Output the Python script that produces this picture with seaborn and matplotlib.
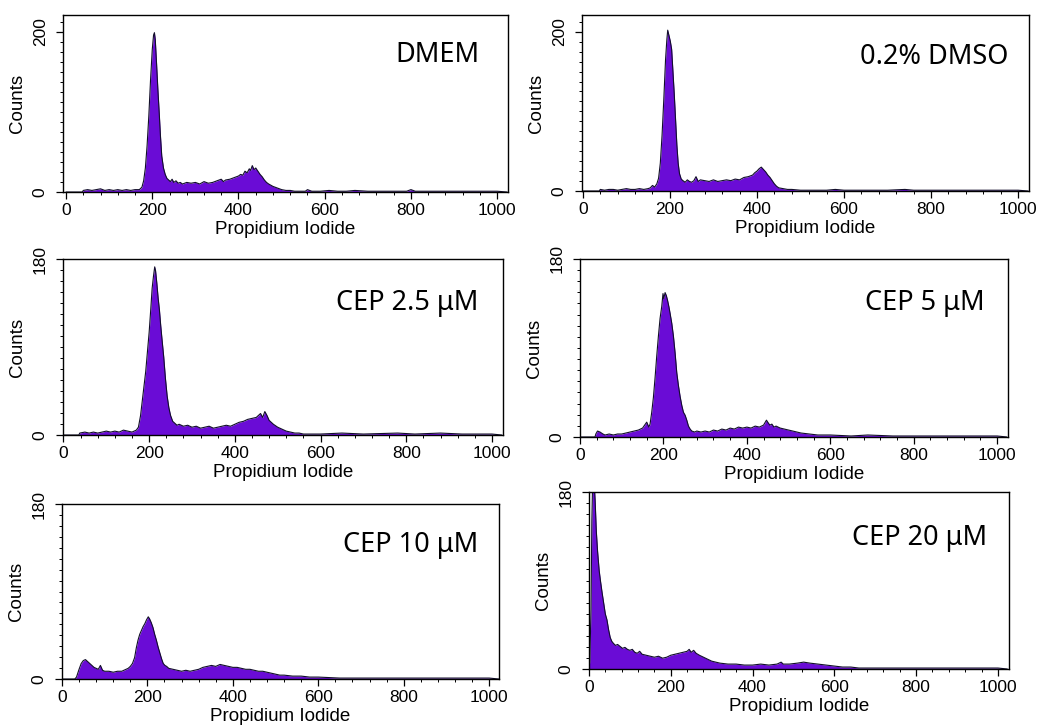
import matplotlib
matplotlib.use("Agg")
import matplotlib.pyplot as plt
from matplotlib.ticker import MultipleLocator, FixedLocator
import seaborn as sns

sns.set_theme(style="ticks")
plt.rcParams['font.family'] = ['Liberation Sans', 'DejaVu Sans']

# ------------------------------
# data (channel, counts)
# ------------------------------
dmem_x = [0, 38, 40, 50, 60, 70, 80, 90, 100, 110, 120, 130, 140, 150, 160, 170, 176, 180, 184, 188,
          192, 196, 200, 203, 205, 207, 210, 213, 216, 219, 222, 226, 230, 234, 238, 242, 246, 250, 255, 260,
          265, 270, 280, 290, 300, 310, 320, 330, 340, 350, 360, 365, 370, 380, 390, 400, 405, 410, 415, 420,
          425, 428, 432, 436, 440, 445, 450, 455, 460, 465, 470, 480, 490, 500, 510, 520, 530, 540, 555, 560,
          570, 590, 610, 630, 650, 670, 700, 730, 760, 790, 800, 810, 840, 870, 900, 930, 960, 990, 1000, 1023]
dmem_y = [0, 0, 2, 3, 2, 3, 4, 2, 3, 2, 3, 2, 3, 2, 3, 3, 6, 14, 30, 58,
          95, 140, 178, 196, 199, 190, 160, 128, 100, 70, 45, 30, 22, 17, 15, 13, 16, 12, 14, 11,
          12, 10, 12, 11, 12, 10, 13, 11, 12, 14, 16, 13, 15, 16, 18, 20, 22, 21, 26, 24,
          29, 27, 33, 28, 30, 26, 22, 19, 15, 12, 10, 7, 5, 3, 2, 2, 1, 1, 1, 3,
          1, 1, 2, 1, 1, 2, 1, 1, 1, 1, 3, 1, 1, 1, 1, 1, 1, 1, 1, 0]

dmso_x = [0, 38, 40, 50, 60, 70, 80, 90, 100, 110, 120, 130, 140, 150, 155, 160, 165, 170, 174, 178,
          182, 186, 190, 193, 195, 198, 201, 204, 207, 210, 213, 216, 219, 222, 226, 230, 235, 240, 245, 250,
          255, 260, 265, 270, 280, 290, 300, 310, 320, 330, 340, 350, 360, 370, 380, 390, 395, 400, 405, 410,
          415, 420, 425, 430, 435, 440, 445, 450, 460, 470, 480, 500, 520, 560, 580, 600, 650, 700, 740, 760,
          800, 850, 900, 950, 1000, 1023]
dmso_y = [0, 0, 2, 1, 2, 2, 1, 2, 3, 2, 2, 3, 2, 3, 4, 7, 5, 9, 16, 35,
          70, 115, 165, 190, 202, 195, 188, 178, 150, 122, 90, 58, 35, 22, 15, 13, 11, 14, 12, 11,
          13, 18, 12, 14, 13, 12, 14, 12, 13, 14, 13, 15, 14, 17, 18, 20, 23, 25, 28, 30,
          27, 24, 20, 17, 13, 9, 6, 4, 3, 2, 2, 1, 1, 1, 2, 1, 1, 1, 2, 1,
          1, 1, 1, 1, 1, 0]

cep25_x = [0, 36, 38, 50, 60, 70, 80, 90, 100, 110, 120, 130, 140, 150, 160, 170, 175, 180, 184, 188,
           192, 196, 200, 204, 207, 210, 213, 215, 218, 221, 224, 227, 230, 234, 238, 242, 246, 250, 255, 260,
           265, 270, 280, 290, 300, 310, 320, 330, 340, 350, 360, 370, 380, 390, 400, 410, 420, 430, 440, 450,
           455, 460, 465, 470, 475, 480, 490, 500, 510, 520, 530, 540, 550, 560, 600, 650, 700, 780, 820, 880,
           930, 1000, 1023]
cep25_y = [0, 0, 2, 3, 2, 3, 2, 3, 4, 3, 4, 3, 5, 4, 3, 5, 8, 20, 35, 50,
           65, 85, 105, 130, 150, 162, 172, 168, 155, 140, 128, 112, 98, 80, 58, 40, 28, 20, 14, 12,
           10, 11, 9, 10, 8, 9, 7, 8, 9, 7, 8, 9, 10, 9, 11, 13, 14, 16, 17, 18,
           20, 22, 18, 24, 20, 15, 11, 8, 6, 4, 3, 2, 2, 1, 1, 2, 1, 2, 1, 2,
           1, 1, 0]

cep5_x = [0, 36, 38, 42, 48, 55, 60, 70, 80, 90, 100, 110, 120, 130, 140, 150, 155, 160, 165, 168,
          172, 176, 180, 184, 188, 192, 196, 199, 201, 204, 207, 210, 213, 216, 220, 224, 228, 232, 236, 240,
          244, 248, 252, 256, 260, 264, 268, 275, 280, 290, 300, 310, 320, 330, 340, 350, 360, 370, 380, 390,
          400, 410, 420, 430, 440, 447, 450, 455, 460, 465, 470, 480, 490, 500, 510, 520, 530, 550, 570, 600,
          650, 690, 750, 800, 900, 920, 1000, 1023]
cep5_y = [0, 0, 3, 6, 5, 3, 2, 3, 2, 3, 3, 4, 5, 6, 7, 9, 12, 15, 10, 13,
          25, 40, 60, 82, 102, 120, 132, 145, 140, 146, 143, 138, 132, 125, 115, 102, 85, 65, 52, 41,
          32, 25, 22, 17, 11, 8, 6, 5, 6, 5, 6, 5, 7, 6, 8, 7, 9, 8, 10, 9,
          10, 9, 11, 10, 12, 17, 15, 12, 13, 10, 11, 9, 8, 7, 6, 5, 4, 3, 2, 2,
          1, 2, 1, 1, 1, 1, 1, 0]

cep10_x = [0, 30, 34, 40, 45, 50, 55, 60, 65, 70, 75, 80, 85, 90, 95, 100, 110, 120, 130, 140,
           150, 155, 160, 165, 170, 174, 178, 182, 186, 190, 194, 198, 202, 205, 209, 213, 217, 221, 225, 229,
           233, 237, 241, 245, 250, 260, 270, 280, 290, 300, 310, 320, 330, 340, 350, 360, 370, 380, 390, 400,
           410, 420, 430, 440, 450, 460, 470, 480, 490, 500, 510, 520, 540, 560, 580, 600, 650, 700, 800, 1000,
           1023]
cep10_y = [0, 0, 2, 10, 16, 19, 20, 18, 16, 14, 12, 11, 10, 14, 9, 8, 8, 7, 8, 8,
           10, 11, 13, 16, 22, 32, 40, 46, 50, 54, 57, 61, 64, 62, 58, 53, 46, 40, 33, 27,
           21, 16, 14, 13, 11, 10, 9, 8, 9, 8, 9, 10, 12, 13, 14, 13, 15, 14, 13, 12,
           12, 11, 10, 10, 9, 8, 8, 7, 6, 5, 4, 4, 3, 3, 2, 2, 1, 1, 1, 1,
           0]

cep20_x = [0, 2, 5, 7, 9, 12, 15, 18, 21, 25, 28, 32, 36, 40, 44, 48, 52, 56, 60, 65,
           70, 76, 82, 88, 94, 100, 106, 112, 118, 124, 130, 140, 150, 160, 170, 180, 190, 200, 210, 220,
           230, 240, 245, 250, 256, 262, 270, 280, 290, 300, 310, 320, 340, 360, 380, 400, 420, 440, 460, 470,
           475, 490, 510, 525, 540, 560, 580, 600, 620, 640, 660, 700, 800, 1000, 1023]
cep20_y = [0, 8, 60, 150, 190, 195, 172, 140, 120, 100, 90, 78, 67, 56, 50, 40, 32, 28, 26, 24,
           25, 23, 21, 22, 20, 19, 20, 17, 16, 18, 15, 14, 13, 12, 13, 11, 12, 14, 15, 16,
           17, 18, 20, 17, 19, 16, 14, 12, 10, 8, 7, 6, 5, 5, 4, 4, 5, 4, 5, 7,
           5, 5, 6, 7, 6, 5, 4, 3, 2, 2, 1, 1, 1, 1, 0]

labels = ["DMEM", "0.2% DMSO", "CEP 2.5 μM", "CEP 5 μM", "CEP 10 μM", "CEP 20 μM"]
y_top_tick = [200, 200, 180, 180, 180, 180]
series = [(dmem_x, dmem_y), (dmso_x, dmso_y), (cep25_x, cep25_y),
          (cep5_x, cep5_y), (cep10_x, cep10_y), (cep20_x, cep20_y)]

# ------------------------------
# layout of the six panels (figure fractions) and axis limits
# ------------------------------
rects = [[0.0603, 0.7355, 0.4258, 0.2438],
         [0.5569, 0.7369, 0.4278, 0.2424],
         [0.0603, 0.4008, 0.4211, 0.2424],
         [0.5550, 0.3981, 0.4096, 0.2452],
         [0.0593, 0.0647, 0.4182, 0.2410],
         [0.5636, 0.0785, 0.4019, 0.2438]]
xlims = [(-7, 1025), (-2, 1025), (-1, 1026), (0, 1026), (0, 1023), (0, 1027)]
ylims = [221, 221, 180, 180, 180, 180]
text_pos = [(0.937, 0.774), (0.953, 0.761), (0.943, 0.75),
            (0.946, 0.753), (0.952, 0.766), (0.948, 0.74)]

fill_color = "#6a0cd6"
edge_color = "#120e2a"

fig = plt.figure(figsize=(10.45, 7.26), dpi=100)
fig.patch.set_facecolor("white")

for i, (xs, ys) in enumerate(series):
    ax = fig.add_axes(rects[i])
    ax.set_facecolor("white")
    ax.fill_between(xs, ys, 0, color=fill_color, linewidth=0)
    sns.lineplot(x=xs, y=ys, ax=ax, color=edge_color, linewidth=0.8, sort=False,
                 estimator=None)
    ax.set_xlim(*xlims[i])
    ax.set_ylim(0, ylims[i])

    ax.xaxis.set_major_locator(FixedLocator([0, 200, 400, 600, 800, 1000]))
    ax.xaxis.set_minor_locator(MultipleLocator(40))
    ax.yaxis.set_major_locator(FixedLocator([0, y_top_tick[i]]))
    ax.yaxis.set_minor_locator(MultipleLocator(y_top_tick[i] / 16))
    ax.tick_params(axis='both', which='major', direction='out', length=5, width=0.9,
                   color='black', labelsize=12.5, labelcolor='black')
    ax.tick_params(axis='both', which='minor', direction='out', length=2.5, width=0.7,
                   color='black')
    ax.tick_params(axis='x', pad=3)
    ax.tick_params(axis='y', pad=6)
    for lab in ax.get_yticklabels():
        lab.set_rotation(90)
        lab.set_va('center')

    for side in ['top', 'right', 'left', 'bottom']:
        ax.spines[side].set_visible(True)
        ax.spines[side].set_color('black')
        ax.spines[side].set_linewidth(1.0)

    ax.set_xlabel("Propidium Iodide", fontsize=13.5, labelpad=2, color='black')
    ax.set_ylabel("Counts", fontsize=13.5, labelpad=5, color='black')

    ax.text(text_pos[i][0], text_pos[i][1], labels[i], transform=ax.transAxes,
            ha='right', va='center', fontsize=19.5, family=['Noto Sans', 'DejaVu Sans'],
            color='black')

fig.savefig("out.png", dpi=100, facecolor="white")
